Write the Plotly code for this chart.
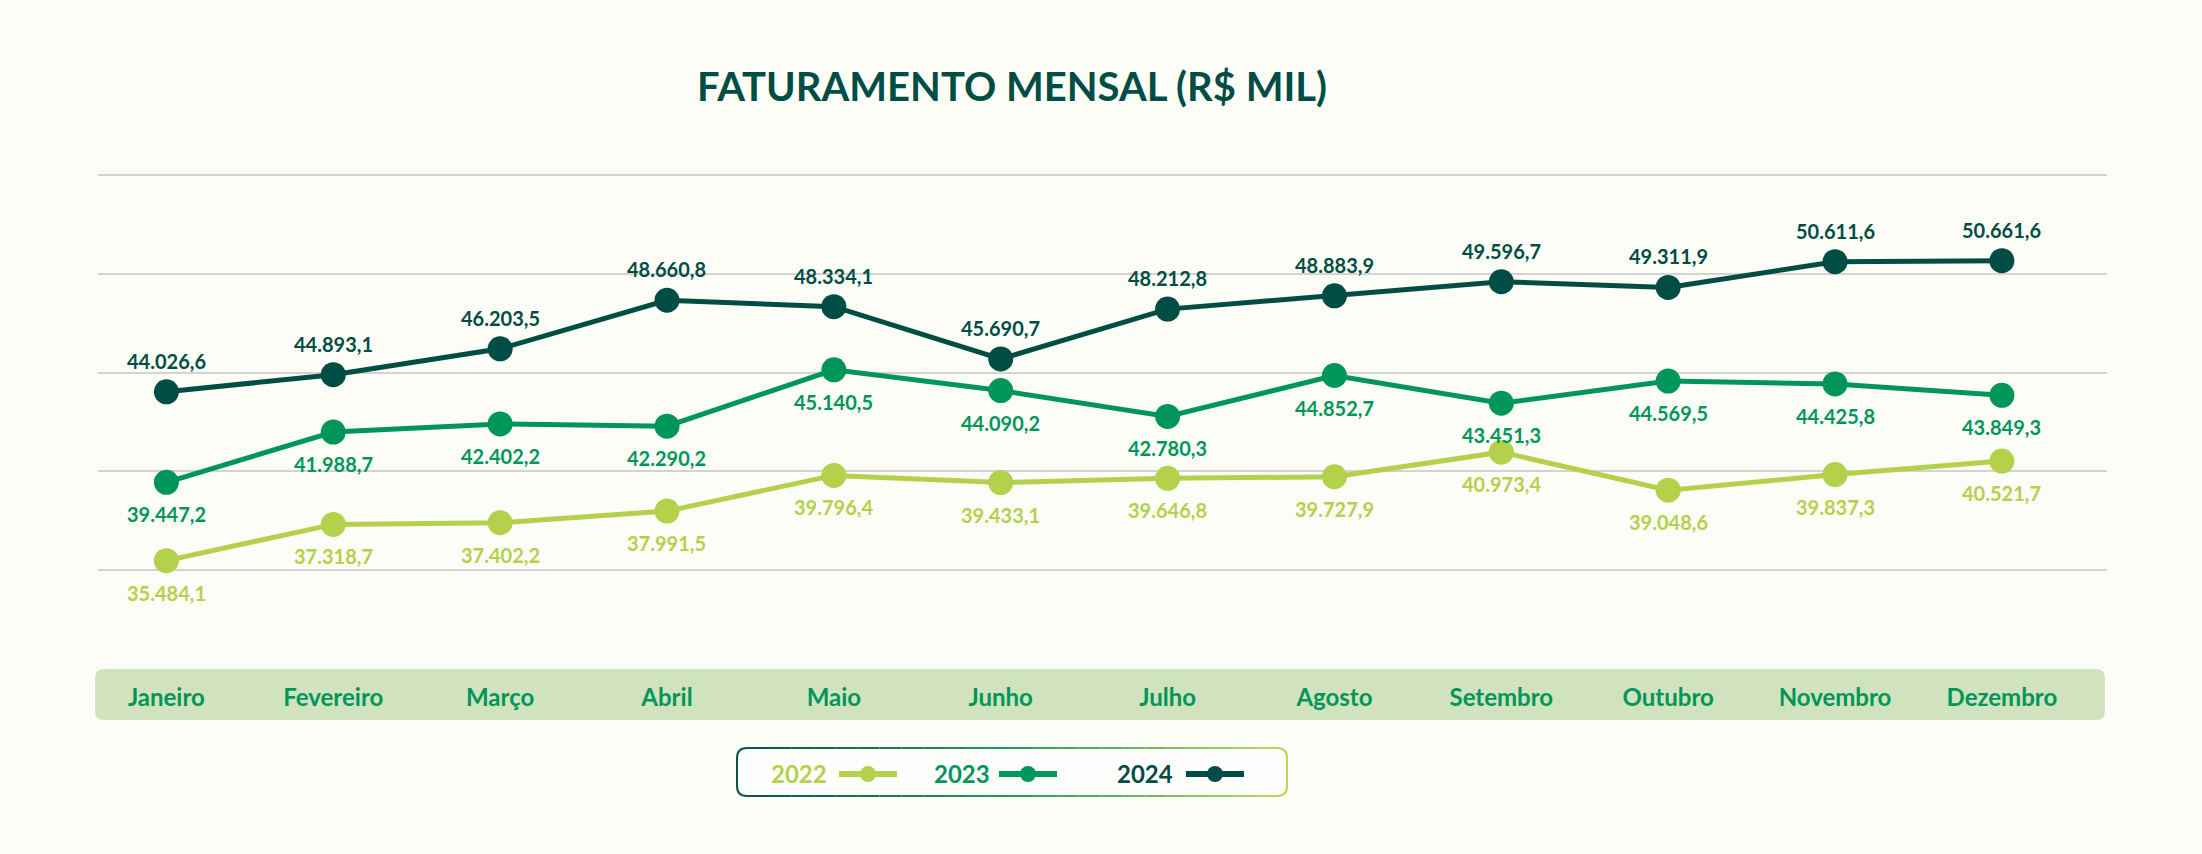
import plotly.graph_objects as go

# data (R$ mil)
meses = ["Janeiro", "Fevereiro", "Março", "Abril", "Maio", "Junho",
         "Julho", "Agosto", "Setembro", "Outubro", "Novembro", "Dezembro"]
fat_2022 = [35484.1, 37318.7, 37402.2, 37991.5, 39796.4, 39433.1,
            39646.8, 39727.9, 40973.4, 39048.6, 39837.3, 40521.7]
fat_2023 = [39447.2, 41988.7, 42402.2, 42290.2, 45140.5, 44090.2,
            42780.3, 44852.7, 43451.3, 44569.5, 44425.8, 43849.3]
fat_2024 = [44026.6, 44893.1, 46203.5, 48660.8, 48334.1, 45690.7,
            48212.8, 48883.9, 49596.7, 49311.9, 50611.6, 50661.6]
anos = ["2022", "2023", "2024"]

CORES = {"2022": "#b3d14b", "2023": "#00965a", "2024": "#004d45"}
BG = "#fdfdf8"
FONT = "Lato, 'Open Sans', sans-serif"

W, H = 2202, 854
ML, MR, MT, MB = 98, 95, 173, 185
PW, PH = W - ML - MR, H - MT - MB


def px(x):
    return (x - ML) / PW


def py(y):
    return (H - MB - y) / PH


def fmt_br(v):
    s = f"{v:,.1f}"
    return s.replace(",", "X").replace(".", ",").replace("X", ".")


def rounded_rect(x0, y0, x1, y1, r):
    # pixel box -> paper path with rounded corners
    rx, ry = r / PW, r / PH
    a0, a1 = px(x0), px(x1)
    b0, b1 = py(y1), py(y0)  # bottom, top in paper
    return (f"M{a0 + rx},{b1} L{a1 - rx},{b1} Q{a1},{b1} {a1},{b1 - ry} "
            f"L{a1},{b0 + ry} Q{a1},{b0} {a1 - rx},{b0} L{a0 + rx},{b0} "
            f"Q{a0},{b0} {a0},{b0 + ry} L{a0},{b1 - ry} Q{a0},{b1} {a0 + rx},{b1} Z")


def mix(c1, c2, t):
    a = [int(c1[i:i + 2], 16) for i in (1, 3, 5)]
    b = [int(c2[i:i + 2], 16) for i in (1, 3, 5)]
    return "#" + "".join(f"{round(a[i] + (b[i] - a[i]) * t):02x}" for i in range(3))


def grad(t):
    # dark teal -> green -> light green
    if t < 0.5:
        return mix("#0d5248", "#1f9e5e", t / 0.5)
    return mix("#1f9e5e", "#b8d657", (t - 0.5) / 0.5)


fig = go.Figure()

series = {"2022": fat_2022, "2023": fat_2023, "2024": fat_2024}
annotations = []
for ano in anos:
    vals = series[ano]
    fig.add_trace(go.Scatter(
        x=meses, y=vals, name=ano, mode="lines+markers",
        line=dict(color=CORES[ano], width=5),
        marker=dict(color=CORES[ano], size=25),
        cliponaxis=False,
    ))
    shift = 31 if ano == "2024" else -32
    for m, v in zip(meses, vals):
        annotations.append(dict(
            x=m, y=v, xref="x", yref="y", yshift=shift, showarrow=False,
            text=fmt_br(v), xanchor="center", yanchor="middle",
            font=dict(family=FONT, size=20, color=CORES[ano], weight=700)))

shapes = []
# faixa dos meses
shapes.append(dict(type="path", xref="paper", yref="paper", layer="below",
                   path=rounded_rect(95, 669, 2105, 720, 9),
                   fillcolor="#d0e3be", line=dict(width=0)))

# caixa da legenda com borda em degradê
bx0, by0, bx1, by1, br = 737, 748, 1287, 796, 10
shapes.append(dict(type="path", xref="paper", yref="paper",
                   path=rounded_rect(bx0, by0, bx1, by1, br),
                   fillcolor="#fefefc", line=dict(width=0)))
rx, ry = br / PW, br / PH
a0, a1, t0, b0 = px(bx0), px(bx1), py(by0), py(by1)
shapes.append(dict(type="path", xref="paper", yref="paper",
                   path=(f"M{a0 + rx},{t0} Q{a0},{t0} {a0},{t0 - ry} L{a0},{b0 + ry} "
                         f"Q{a0},{b0} {a0 + rx},{b0}"),
                   line=dict(color=grad(0), width=2)))
shapes.append(dict(type="path", xref="paper", yref="paper",
                   path=(f"M{a1 - rx},{t0} Q{a1},{t0} {a1},{t0 - ry} L{a1},{b0 + ry} "
                         f"Q{a1},{b0} {a1 - rx},{b0}"),
                   line=dict(color=grad(1), width=2)))
n = 24
for i in range(n):
    xa = a0 + rx + (a1 - a0 - 2 * rx) * i / n
    xb = a0 + rx + (a1 - a0 - 2 * rx) * (i + 1) / n
    for yy in (t0, b0):
        shapes.append(dict(type="line", xref="paper", yref="paper",
                           x0=xa, x1=xb, y0=yy, y1=yy,
                           line=dict(color=grad((i + 0.5) / n), width=2)))

leg_x = {"2022": (799, 868), "2023": (962, 1028), "2024": (1145, 1215)}
for ano in anos:
    tx, mx = leg_x[ano]
    annotations.append(dict(xref="paper", yref="paper", x=px(tx), y=py(773),
                            xanchor="center", yanchor="middle",
                            text=ano, showarrow=False,
                            font=dict(family=FONT, size=24, color=CORES[ano], weight=700)))
    shapes.append(dict(type="line", xref="paper", yref="paper",
                       x0=px(mx - 29), x1=px(mx + 29), y0=py(774), y1=py(774),
                       line=dict(color=CORES[ano], width=6)))
    shapes.append(dict(type="circle", xref="paper", yref="paper",
                       x0=px(mx - 8), x1=px(mx + 8), y0=py(782), y1=py(766),
                       fillcolor=CORES[ano], line=dict(width=0)))

fig.update_layout(
    width=W, height=H,
    margin=dict(l=ML, r=MR, t=MT, b=MB),
    paper_bgcolor=BG, plot_bgcolor=BG,
    showlegend=False,
    title=dict(text="<b>FATURAMENTO MENSAL (R$ MIL)</b>",
               x=1012 / W, xanchor="center", y=1 - 87 / H, yanchor="middle",
               yref="container",
               font=dict(family=FONT, size=40, color="#004d45")),
    xaxis=dict(type="category", range=[-0.41, 11.63], showgrid=False,
               showline=False, zeroline=False, ticks="", ticklabelstandoff=12,
               tickfont=dict(family=FONT, size=24, color="#00965a", weight=700)),
    yaxis=dict(range=[30000, 55100], dtick=5000, tick0=0, showgrid=True,
               gridcolor="#d3d3d3", gridwidth=2, zeroline=False,
               showticklabels=False, ticks=""),
    shapes=shapes,
    annotations=annotations,
)

fig.write_html("out.html", config={"displayModeBar": False},
               post_script="document.body.style.margin='0';"
                           "document.body.style.background='" + BG + "';")
